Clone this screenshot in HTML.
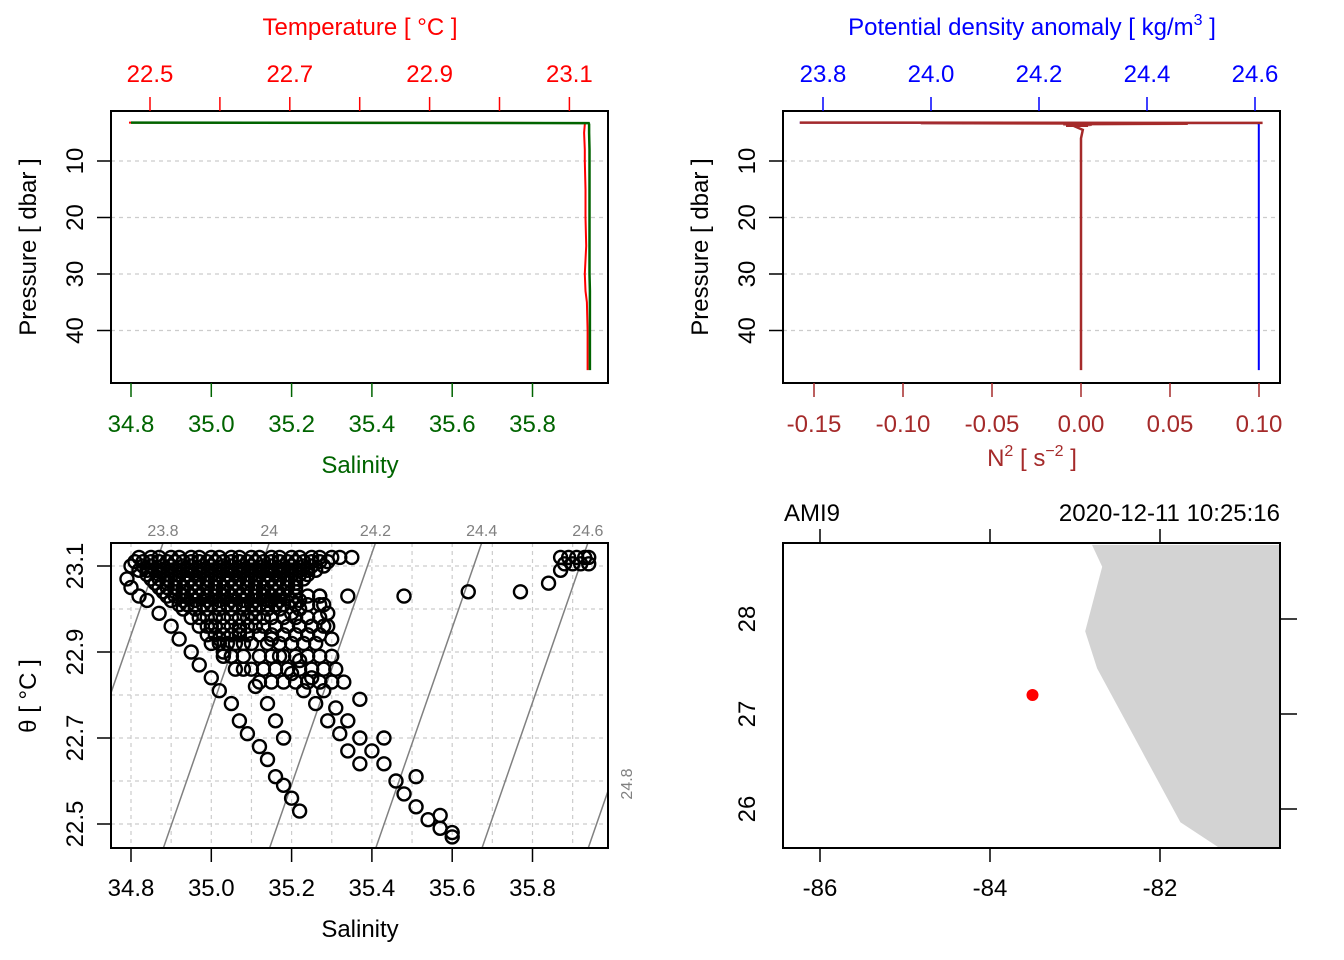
<!DOCTYPE html>
<html><head><meta charset="utf-8"><style>
body{margin:0;background:#fff;}
svg{display:block;font-family:"Liberation Sans",sans-serif;}
</style></head><body>
<svg id="c" width="1344" height="960" viewBox="0 0 1344 960"></svg>
<script>
// ---------- data ----------
const profP = [3.2, 3.25, 3.3, 3.5, 5, 8, 10, 15, 20, 25, 30, 33, 35, 40, 45, 47];
const profT = [22.47, 23.0, 23.121, 23.122, 23.121, 23.122, 23.122, 23.123, 23.123, 23.124, 23.122, 23.123, 23.125, 23.126, 23.126, 23.126];
const profS = [34.80, 35.5, 35.94, 35.941, 35.941, 35.942, 35.942, 35.942, 35.942, 35.942, 35.942, 35.943, 35.943, 35.943, 35.943, 35.943];
const profSig = [23.757, 24.2, 24.605, 24.607, 24.607, 24.607, 24.607, 24.607, 24.607, 24.607, 24.607, 24.607, 24.607, 24.607, 24.607, 24.607];
const n2P = [3.2, 3.25, 3.3, 3.4, 3.5, 3.6, 3.8, 4.5, 6, 10, 20, 30, 40, 47];
const n2V = [-0.158, 0.102, -0.09, 0.06, -0.01, 0.006, -0.004, 0.001, 0, 0, 0, 0, 0, 0];
const tempTicks = [22.5, 22.6, 22.7, 22.8, 22.9, 23.0, 23.1];
const tempLabels = ["22.5", "22.7", "22.9", "23.1"];
const salTicks = [34.8, 35.0, 35.2, 35.4, 35.6, 35.8];
const salLabels = ["34.8", "35.0", "35.2", "35.4", "35.6", "35.8"];
const presTicks = [10, 20, 30, 40];
const sigTicks = [23.8, 24.0, 24.2, 24.4, 24.6];
const sigLabels = ["23.8", "24.0", "24.2", "24.4", "24.6"];
const n2Ticks = [-0.15, -0.10, -0.05, 0.00, 0.05, 0.10];
const n2Labels = ["-0.15", "-0.10", "-0.05", "0.00", "0.05", "0.10"];
const thetaTicks = [22.5, 22.7, 22.9, 23.1];
const isoLevels = [23.6, 23.8, 24.0, 24.2, 24.4, 24.6, 24.8];
const tsS = [34.82,34.85,34.87,34.90,34.92,34.95,34.97,35.00,35.02,35.05,35.07,35.10,35.12,35.15,35.17,35.20,35.22,35.25,35.27,35.30,35.32,35.35,
 34.80,34.83,34.85,34.88,34.90,34.93,34.95,34.98,35.00,35.03,35.05,35.08,35.10,35.13,35.15,35.18,35.20,35.23,35.25,35.28,
 34.84,34.87,34.89,34.92,34.94,34.97,34.99,35.02,35.04,35.07,35.09,35.12,35.14,35.17,35.19,35.22,35.24,
 34.86,34.89,34.91,34.94,34.96,34.99,35.01,35.04,35.06,35.09,35.11,35.14,35.16,35.19,35.21,
 34.88,34.91,34.93,34.96,34.98,35.01,35.03,35.06,35.08,35.11,35.13,35.16,35.18,35.21,
 34.90,34.93,34.96,34.99,35.02,35.05,35.08,35.11,35.14,35.17,35.20,
 34.93,34.96,34.99,35.02,35.05,35.08,35.11,35.14,35.17,35.22,
 34.79,34.80,34.82,34.84,
 34.87,34.90,34.92,34.95,34.97,35.00,35.02,35.05,35.07,35.09,35.12,35.14,35.16,35.18,35.20,35.22,
 35.00,35.02,35.05,35.08,35.11,35.14,35.16,35.18,
 35.15,35.17,35.20,35.23,35.26,35.29,35.32,35.34,35.37,
 35.22,35.25,35.28,35.31,35.34,35.37,35.40,35.43,35.46,35.48,35.51,35.54,35.57,35.60,
 35.27,35.28,35.29,35.29,35.30,35.22,35.20,35.15,35.10,35.07,35.03,
 35.34,35.48,35.64,35.77,35.84,35.87,35.37,35.43,35.51,35.57,35.60,
 35.87,35.89,35.91,35.93,35.94,35.88,35.90,35.92,35.94,
 34.81,34.83,34.85,34.87,34.89,34.91,34.93,34.95,34.97,34.99,35.01,35.03,35.05,35.07,35.09,35.11,35.13,35.15,35.17,35.19,35.21,35.23,35.25,35.27,35.29,
 34.82,34.84,34.86,34.88,34.90,34.92,34.94,34.96,34.98,35.00,35.02,35.04,35.06,35.08,35.10,35.12,35.14,35.16,35.18,35.20,35.22,35.24,35.26,
 34.85,34.87,34.89,34.91,34.93,34.95,34.97,34.99,35.01,35.03,35.05,35.07,35.09,35.11,35.13,35.15,35.17,35.19,35.21,35.23,
 34.87,34.89,34.91,34.93,34.95,34.97,34.99,35.01,35.03,35.05,35.07,35.09,35.11,35.13,35.15,35.17,35.19,35.21,
 34.89,34.91,34.93,34.95,34.97,34.99,35.01,35.03,35.05,35.07,35.09,35.11,35.13,35.15,35.17,35.19,35.21,35.24,35.27,
 34.92,34.94,34.96,34.98,35.00,35.02,35.04,35.06,35.08,35.10,35.12,35.14,35.16,35.18,35.21,35.24,35.27,
 34.95,34.97,34.99,35.01,35.03,35.05,35.07,35.09,35.11,35.13,35.15,35.18,35.21,35.24,35.27,
 34.97,34.99,35.01,35.03,35.05,35.07,35.09,35.11,35.13,35.16,35.19,35.22,35.25,35.28,
 34.99,35.01,35.03,35.05,35.07,35.09,35.12,35.15,35.18,35.21,35.24,35.27,
 35.00,35.02,35.04,35.06,35.08,35.10,35.14,35.17,35.20,35.23,35.26,
 35.03,35.05,35.08,35.12,35.15,35.18,35.21,35.24,35.27,35.30,
 35.06,35.10,35.13,35.16,35.19,35.22,35.25,35.28,35.31,
 35.12,35.15,35.18,35.21,35.24,35.27,35.30,35.33];
const tsT = [23.12,23.12,23.12,23.12,23.12,23.12,23.12,23.12,23.12,23.12,23.12,23.12,23.12,23.12,23.12,23.12,23.12,23.12,23.12,23.12,23.12,23.12,
 23.10,23.10,23.10,23.10,23.10,23.10,23.10,23.10,23.10,23.10,23.10,23.10,23.10,23.10,23.10,23.10,23.10,23.10,23.10,23.10,
 23.08,23.08,23.08,23.08,23.08,23.08,23.08,23.08,23.08,23.08,23.08,23.08,23.08,23.08,23.08,23.08,23.08,
 23.06,23.06,23.06,23.06,23.06,23.06,23.06,23.06,23.06,23.06,23.06,23.06,23.06,23.06,23.06,
 23.04,23.04,23.04,23.04,23.04,23.04,23.04,23.04,23.04,23.04,23.04,23.04,23.04,23.04,
 23.02,23.02,23.02,23.02,23.02,23.02,23.02,23.02,23.02,23.02,23.02,
 23.00,23.00,23.00,23.00,23.00,23.00,23.00,23.00,23.00,23.00,
 23.07,23.05,23.03,23.02,
 22.99,22.96,22.93,22.90,22.87,22.84,22.81,22.78,22.74,22.71,22.68,22.65,22.61,22.59,22.56,22.53,
 22.96,22.93,22.89,22.86,22.82,22.78,22.74,22.70,
 22.93,22.89,22.85,22.81,22.78,22.74,22.71,22.67,22.64,
 22.88,22.84,22.81,22.77,22.74,22.70,22.67,22.64,22.60,22.57,22.54,22.51,22.49,22.47,
 23.03,23.01,22.99,22.96,22.93,23.02,22.99,23.02,22.99,22.95,22.90,
 23.03,23.03,23.04,23.04,23.06,23.09,22.79,22.70,22.61,22.52,22.48,
 23.12,23.12,23.12,23.12,23.12,23.105,23.105,23.105,23.105,
 23.11,23.11,23.11,23.11,23.11,23.11,23.11,23.11,23.11,23.11,23.11,23.11,23.11,23.11,23.11,23.11,23.11,23.11,23.11,23.11,23.11,23.11,23.11,23.11,23.11,
 23.09,23.09,23.09,23.09,23.09,23.09,23.09,23.09,23.09,23.09,23.09,23.09,23.09,23.09,23.09,23.09,23.09,23.09,23.09,23.09,23.09,23.09,23.09,
 23.07,23.07,23.07,23.07,23.07,23.07,23.07,23.07,23.07,23.07,23.07,23.07,23.07,23.07,23.07,23.07,23.07,23.07,23.07,23.07,
 23.05,23.05,23.05,23.05,23.05,23.05,23.05,23.05,23.05,23.05,23.05,23.05,23.05,23.05,23.05,23.05,23.05,23.05,
 23.03,23.03,23.03,23.03,23.03,23.03,23.03,23.03,23.03,23.03,23.03,23.03,23.03,23.03,23.03,23.03,23.03,23.03,23.03,
 23.01,23.01,23.01,23.01,23.01,23.01,23.01,23.01,23.01,23.01,23.01,23.01,23.01,23.01,23.01,23.01,23.01,
 22.98,22.98,22.98,22.98,22.98,22.98,22.98,22.98,22.98,22.98,22.98,22.98,22.98,22.98,22.98,
 22.96,22.96,22.96,22.96,22.96,22.96,22.96,22.96,22.96,22.96,22.96,22.96,22.96,22.96,
 22.94,22.94,22.94,22.94,22.94,22.94,22.94,22.94,22.94,22.94,22.94,22.94,
 22.92,22.92,22.92,22.92,22.92,22.92,22.92,22.92,22.92,22.92,22.92,
 22.89,22.89,22.89,22.89,22.89,22.89,22.89,22.89,22.89,22.89,
 22.86,22.86,22.86,22.86,22.86,22.86,22.86,22.86,22.86,
 22.83,22.83,22.83,22.83,22.83,22.83,22.83,22.83];
const lonTicks = [-86, -84, -82];
const latTicks = [26, 27, 28];
const stationLon = [-83.5];
const stationLat = [27.2];
const coastLon = [-82.8, -82.68, -82.88, -82.74, -81.76, -81.3, -80.4, -80.4, -80.54];
const coastLat = [28.78, 28.55, 27.87, 27.48, 25.86, 25.59, 25.59, 28.55, 28.78];

// ---------- helpers ----------
const svg = document.getElementById('c');
const NS = 'http://www.w3.org/2000/svg';
function mk(tag, attrs, name, parent) {
  const el = document.createElementNS(NS, tag);
  for (const k in attrs) el.setAttribute(k, attrs[k]);
  
  
  (parent || svg).appendChild(el);
  return el;
}
function txt(x, y, s, name, opt) {
  opt = opt || {};
  const t = mk('text', {x: x, y: y, 'font-size': opt.size || 24, fill: opt.fill || '#000', 'text-anchor': opt.anchor || 'middle'}, name);
  if (opt.rot) t.setAttribute('transform', 'rotate(-90 ' + x + ' ' + y + ')');
  t.textContent = s;
  return t;
}
function ln(x1, y1, x2, y2, name, stroke, w, dash) {
  const a = {x1: x1, y1: y1, x2: x2, y2: y2, stroke: stroke || '#000', 'stroke-width': w || 1.5};
  if (dash) a['stroke-dasharray'] = dash;
  return mk('line', a, name);
}
function poly(xs, ys, name, stroke, w) {
  const pts = xs.map((x, i) => x.toFixed(1) + ',' + ys[i].toFixed(1)).join(' ');
  return mk('polyline', {points: pts, fill: 'none', stroke: stroke, 'stroke-width': w || 2}, name);
}
function box(x0, y0, x1, y1, name) {
  mk('rect', {x: x0, y: y0, width: x1 - x0, height: y1 - y0, fill: 'none', stroke: '#000', 'stroke-width': 2}, name);
}

// ---------- panel 1: T/S profile ----------
const pY = p => 104.5 + p * 5.65;
const tX = t => 150 + (t - 22.5) * 699;
const sX = s => 131 + (s - 34.8) * 401.5;
presTicks.forEach(p => ln(111, pY(p), 608, pY(p), 'pressure-grid-line', '#ccc', 1.2, '4,4'));
poly(profT.map(tX), profP.map(pY), 'temperature-line', '#ff0000', 2);
poly(profS.map(sX), profP.map(pY), 'salinity-line', '#006400', 2.5);
box(111, 111, 608, 383, 'profile-ts-plot-area');
tempTicks.forEach(t => ln(tX(t), 111, tX(t), 97, 'temperature-tick', '#ff0000'));
tempLabels.forEach(l => txt(tX(+l), 82, l, 'temperature-tick-label', {fill: '#ff0000'}));
txt(360, 35, 'Temperature [ °C ]', 'temperature-axis-title', {fill: '#ff0000'});
salTicks.forEach(s => ln(sX(s), 383, sX(s), 397, 'salinity-tick', '#006400'));
salLabels.forEach(l => txt(sX(+l), 432, l, 'salinity-tick-label', {fill: '#006400'}));
txt(360, 473, 'Salinity', 'salinity-axis-title', {fill: '#006400'});
presTicks.forEach(p => { ln(111, pY(p), 97, pY(p), 'pressure-tick'); txt(83, pY(p), String(p), 'pressure-tick-label', {rot: true}); });
txt(36, 247, 'Pressure [ dbar ]', 'pressure-axis-title', {rot: true});

// ---------- panel 2: density & N2 ----------
const gX = g => 823 + (g - 23.8) * 540;
const nX = n => 1081 + n * 1780;
presTicks.forEach(p => ln(783, pY(p), 1280, pY(p), 'pressure-grid-line', '#ccc', 1.2, '4,4'));
poly(profSig.map(gX), profP.map(pY), 'density-line', '#0000ff', 2);
poly(n2V.map(nX), n2P.map(pY), 'n2-line', '#a52a2a', 2.5);
mk('rect', {x: 1066, y: 123, width: 22, height: 4, fill: '#a52a2a'}, 'n2-surface-spike');
box(783, 111, 1280, 383, 'profile-density-plot-area');
sigTicks.forEach(g => ln(gX(g), 111, gX(g), 97, 'density-tick', '#0000ff'));
sigLabels.forEach(l => txt(gX(+l), 82, l, 'density-tick-label', {fill: '#0000ff'}));
const dt = txt(1032, 35, 'Potential density anomaly [ kg/m', 'density-axis-title', {fill: '#0000ff'});
const sup = mk('tspan', {dy: -10, 'font-size': 16}, 'density-title-superscript', dt); sup.textContent = '3';
const rest = mk('tspan', {dy: 10}, 'density-title-end', dt); rest.textContent = ' ]';
n2Ticks.forEach(n => ln(nX(n), 383, nX(n), 397, 'n2-tick', '#a52a2a'));
n2Labels.forEach(l => txt(nX(+l), 432, l, 'n2-tick-label', {fill: '#a52a2a'}));
const nt = txt(1032, 466, 'N', 'n2-axis-title', {fill: '#a52a2a'});
const s1 = mk('tspan', {dy: -10, 'font-size': 16}, 'n2-title-sup', nt); s1.textContent = '2';
const s2 = mk('tspan', {dy: 10}, 'n2-title-mid', nt); s2.textContent = ' [ s';
const s3 = mk('tspan', {dy: -10, 'font-size': 16}, 'n2-title-sup2', nt); s3.textContent = '−2';
const s4 = mk('tspan', {dy: 10}, 'n2-title-end', nt); s4.textContent = ' ]';
presTicks.forEach(p => { ln(783, pY(p), 769, pY(p), 'pressure-tick'); txt(755, pY(p), String(p), 'pressure-tick-label', {rot: true}); });
txt(708, 247, 'Pressure [ dbar ]', 'pressure-axis-title', {rot: true});

// ---------- panel 3: TS diagram ----------
const thY = t => 566 + (23.1 - t) * 430;
const sigS0 = 34.8797, sigT0 = 23.1535;
const clip = mk('clipPath', {id: 'tsclip'}, 'ts-clip');
mk('rect', {x: 111, y: 543, width: 497, height: 305}, 'ts-clip-rect', clip);
const gTS = mk('g', {'clip-path': 'url(#tsclip)'}, 'ts-plot-group');
[34.8,34.9,35.0,35.1,35.2,35.3,35.4,35.5,35.6,35.7,35.8,35.9].forEach(s => mk('line', {x1: sX(s), y1: 543, x2: sX(s), y2: 848, stroke: '#ccc', 'stroke-width': 1.2, 'stroke-dasharray': '4,4'}, 'ts-grid-vertical', gTS));
[23.1,23.0,22.9,22.8,22.7,22.6,22.5].forEach(t => mk('line', {x1: 111, y1: thY(t), x2: 608, y2: thY(t), stroke: '#ccc', 'stroke-width': 1.2, 'stroke-dasharray': '4,4'}, 'ts-grid-horizontal', gTS));
const tTop = 23.1535, tBot = 22.444;
isoLevels.forEach(g => {
  const sTop = sigS0 + (g - 23.8 + 0.281 * (tTop - sigT0)) / 0.756;
  const sBot = sigS0 + (g - 23.8 + 0.281 * (tBot - sigT0)) / 0.756;
  mk('line', {x1: sX(sTop), y1: thY(tTop), x2: sX(sBot), y2: thY(tBot), stroke: '#808080', 'stroke-width': 1.5}, 'isopycnal-line', gTS);
  const lbl = Math.abs(g - 24) < 1e-9 ? '24' : g.toFixed(1);
  if (sX(sTop) > 111 && sX(sTop) < 608) txt(sX(sTop), 536, lbl, 'isopycnal-label', {size: 16, fill: '#808080'});
  else if (sX(sTop) >= 608 && g < 25) txt(632, 784, lbl, 'isopycnal-label', {size: 16, fill: '#808080', rot: true});
});
tsS.forEach((s, i) => mk('circle', {cx: sX(s), cy: thY(tsT[i]), r: 6.5, fill: 'none', stroke: '#000', 'stroke-width': 2.4}, 'ts-point', gTS));
box(111, 543, 608, 848, 'ts-plot-area');
salTicks.forEach(s => ln(sX(s), 848, sX(s), 862, 'salinity-tick'));
salLabels.forEach(l => txt(sX(+l), 896, l, 'salinity-tick-label'));
txt(360, 937, 'Salinity', 'ts-salinity-axis-title');
thetaTicks.forEach(t => { ln(111, thY(t), 97, thY(t), 'theta-tick'); txt(83, thY(t), t.toFixed(1), 'theta-tick-label', {rot: true}); });
txt(36, 696, 'θ [ °C ]', 'theta-axis-title', {rot: true});

// ---------- panel 4: map ----------
const lonX = l => 820 + (l + 86) * 85;
const latY = l => 619 - (l - 28) * 95;
const mclip = mk('clipPath', {id: 'mclip'}, 'map-clip');
mk('rect', {x: 783, y: 543, width: 497, height: 305}, 'map-clip-rect', mclip);
const gM = mk('g', {'clip-path': 'url(#mclip)'}, 'map-group');
mk('polygon', {points: coastLon.map((l, i) => lonX(l).toFixed(1) + ',' + latY(coastLat[i]).toFixed(1)).join(' '), fill: '#d3d3d3', stroke: 'none'}, 'land-polygon', gM);
stationLon.forEach((l, i) => mk('circle', {cx: lonX(l), cy: latY(stationLat[i]), r: 6, fill: '#ff0000'}, 'station-marker', gM));
box(783, 543, 1280, 848, 'map-plot-area');
lonTicks.forEach(l => { ln(lonX(l), 848, lonX(l), 862, 'longitude-tick'); ln(lonX(l), 543, lonX(l), 529, 'longitude-top-tick'); txt(lonX(l), 896, String(l), 'longitude-tick-label'); });
latTicks.forEach(l => { ln(1280, latY(l), 1297, latY(l), 'latitude-right-tick'); txt(755, latY(l), String(l), 'latitude-tick-label', {rot: true}); });
txt(784, 521, 'AMI9', 'station-name', {anchor: 'start'});
txt(1280, 521, '2020-12-11 10:25:16', 'station-datetime', {anchor: 'end'});
</script>
</body></html>
